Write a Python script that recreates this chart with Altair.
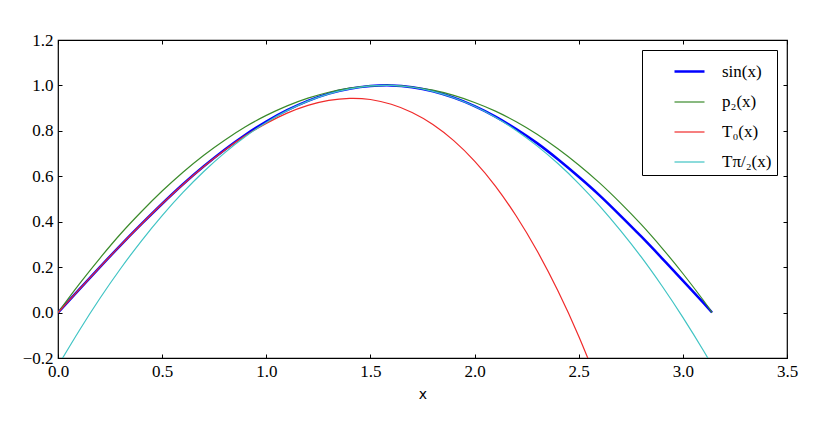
import altair as alt
import pandas as pd

# sample positions along x
xs = [0.0, 0.1, 0.2, 0.3, 0.4, 0.5, 0.6, 0.7, 0.8, 0.9, 1.0, 1.1, 1.2, 1.3, 1.4, 1.5,
      1.6, 1.7, 1.8, 1.9, 2.0, 2.1, 2.2, 2.3, 2.4, 2.5, 2.6, 2.7, 2.8, 2.9, 3.0, 3.1, 3.14]

sin_vals = [0.0, 0.100, 0.199, 0.296, 0.389, 0.479, 0.565, 0.644, 0.717, 0.783, 0.841,
            0.891, 0.932, 0.964, 0.985, 0.997, 1.000, 0.992, 0.974, 0.946, 0.909, 0.863,
            0.808, 0.746, 0.675, 0.598, 0.516, 0.427, 0.335, 0.239, 0.141, 0.042, 0.0]

p2_vals = [0.0, 0.123, 0.238, 0.346, 0.444, 0.535, 0.618, 0.693, 0.759, 0.818, 0.868,
           0.910, 0.944, 0.970, 0.988, 0.998, 1.000, 0.993, 0.979, 0.956, 0.925, 0.887,
           0.840, 0.785, 0.721, 0.650, 0.571, 0.483, 0.388, 0.284, 0.172, 0.052, 0.0]

t0_x = [0.0, 0.1, 0.2, 0.3, 0.4, 0.5, 0.6, 0.7, 0.8, 0.9, 1.0, 1.1, 1.2, 1.3, 1.4, 1.5,
        1.6, 1.7, 1.8, 1.9, 2.0, 2.1, 2.2, 2.3, 2.4, 2.5, 2.6]
t0_vals = [0.0, 0.100, 0.199, 0.296, 0.389, 0.479, 0.564, 0.643, 0.715, 0.779, 0.833,
           0.878, 0.912, 0.934, 0.943, 0.938, 0.917, 0.881, 0.828, 0.757, 0.667, 0.557,
           0.425, 0.272, 0.096, -0.104, -0.329]

tpi2_vals = [-0.234, -0.082, 0.061, 0.193, 0.315, 0.427, 0.529, 0.621, 0.703, 0.775, 0.837,
             0.889, 0.931, 0.963, 0.985, 0.998, 1.000, 0.992, 0.974, 0.946, 0.908, 0.860,
             0.802, 0.734, 0.656, 0.568, 0.470, 0.362, 0.245, 0.117, -0.021, -0.169, -0.234]

series_names = ["sin(x)", "p\u2082(x)", "T\u2080(x)", "T\u03c0/\u2082(x)"]
series_colors = ["#0000ff", "#3a8a2a", "#f02a2a", "#40c4c4"]
series_widths = [2.5, 1.2, 1.2, 1.2]

x_ticks = [0.0, 0.5, 1.0, 1.5, 2.0, 2.5, 3.0, 3.5]
y_ticks = [-0.2, 0.0, 0.2, 0.4, 0.6, 0.8, 1.0, 1.2]

rows = []
for name, xv, yv in [(series_names[0], xs, sin_vals),
                     (series_names[1], xs, p2_vals),
                     (series_names[2], t0_x, t0_vals),
                     (series_names[3], xs, tpi2_vals)]:
    for i, (a, b) in enumerate(zip(xv, yv)):
        rows.append({"x": a, "y": b, "series": name, "i": i})
df = pd.DataFrame(rows)

serif = "Liberation Serif"

xscale = alt.Scale(domain=[0, 3.5], nice=False, zero=False)
yscale = alt.Scale(domain=[-0.2, 1.2], nice=False, zero=False)

common_axis = dict(grid=False, domain=False, ticks=True, tickSize=4, offset=-4,
                   tickColor="black", tickWidth=1, labelFont=serif, labelFontSize=17,
                   labelColor="black", format=".1f", labelFlush=False)

lines = alt.Chart(df).mark_line(clip=True, interpolate="natural").encode(
    x=alt.X("x:Q", scale=xscale,
            axis=alt.Axis(orient="bottom", values=x_ticks, title="x", titleFont="DejaVu Sans",
                          titleFontSize=14, titleFontWeight="normal", titleColor="black",
                          titlePadding=8, labelPadding=5, **common_axis)),
    y=alt.Y("y:Q", scale=yscale,
            axis=alt.Axis(orient="left", values=y_ticks, title=None, labelPadding=5,
                          **common_axis)),
    color=alt.Color("series:N", scale=alt.Scale(domain=series_names, range=series_colors),
                    legend=alt.Legend(title=None)),
    strokeWidth=alt.StrokeWidth("series:N",
                                scale=alt.Scale(type="ordinal", domain=series_names,
                                                range=series_widths),
                                legend=alt.Legend(title=None)),
    order="i:Q",
)

frame_axes = alt.Chart(df).mark_line(clip=True, strokeOpacity=0).encode(
    x=alt.X("x:Q", scale=xscale,
            axis=alt.Axis(orient="top", values=x_ticks, title=None, labels=False,
                          **common_axis)),
    y=alt.Y("y:Q", scale=yscale,
            axis=alt.Axis(orient="right", values=y_ticks, title=None, labels=False,
                          **common_axis)),
    detail="series:N",
)

chart = alt.layer(lines, frame_axes).resolve_axis(
    x="independent", y="independent"
).properties(
    width=729, height=318,
    autosize=alt.AutoSizeParams(type="none"),
    padding={"left": 50, "top": 32, "right": 40, "bottom": 50},
).configure_axis(
    labelFont=serif, labelFontSize=17
).configure_view(
    stroke="black", strokeWidth=1.2
).configure_legend(
    orient="top-right", offset=10, strokeColor="black", fillColor="white",
    padding=5, cornerRadius=0, symbolType="stroke", symbolSize=900,
    symbolOffset=26, labelFont=serif, labelFontSize=17, labelColor="black",
    labelOffset=16, rowPadding=6, labelLimit=200
)

chart.save("out.html", embed_options={"renderer": "svg", "actions": False})
